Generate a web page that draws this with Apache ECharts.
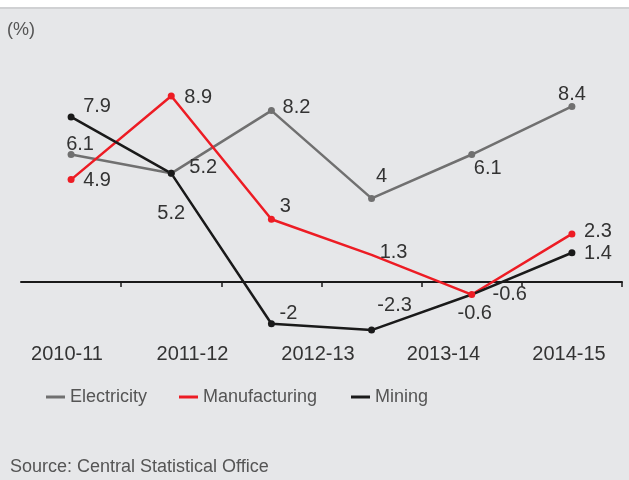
<!DOCTYPE html>
<html><head><meta charset="utf-8">
<script src="https://cdn.jsdelivr.net/npm/echarts@6/dist/echarts.min.js"></script>
<style>html,body{margin:0;padding:0;background:#e6e7e9}#c{width:629px;height:480px}</style>
</head><body><div id="c"></div>
<script>
// ---- data ----
const tickLabels = ['2010-11', '2011-12', '2012-13', '2013-14', '2014-15'];
const pointSlots = ['1', '2', '3', '4', '5', '6'];
const electricity = [6.1, 5.2, 8.2, 4, 6.1, 8.4];
const manufacturing = [4.9, 8.9, 3, 1.3, -0.6, 2.3];
const mining = [7.9, 5.2, -2, -2.3, -0.6, 1.4];
const seriesNames = ['Electricity', 'Manufacturing', 'Mining'];

// ---- styling (label offsets / hidden markers) ----
const elecOffsets = [[9, -10], [32, -6], [25, -3], [10, -22], [16, 14], [0, -12]];
const manuOffsets = [[26, 1], [27, 1], [14, -13], [22, -2], [3, 19], [26, -2]];
const minOffsets = [[26, -10], [0, 40], [17, -10], [23, -25], [38, 0], [26, 1]];
const elecHidden = [0, 0, 0, 0, 0, 0];
const manuHidden = [0, 0, 0, 1, 0, 0];
const minHidden = [0, 0, 0, 0, 1, 0];
const colors = ['#707070', '#ed1c24', '#1a1a1a'];
const FONT = 'Liberation Sans, Arial, sans-serif';

function build(values, offsets, hidden) {
  return values.map((v, i) => ({
    value: v,
    symbolSize: hidden[i] ? 0.1 : 7,
    label: { offset: offsets[i] }
  }));
}

function lineSeries(name, values, offsets, hidden, color) {
  return {
    name: name, type: 'line', xAxisIndex: 0, yAxisIndex: 0,
    data: build(values, offsets, hidden),
    symbol: 'circle', symbolSize: 7, showSymbol: true,
    lineStyle: { color: color, width: 2.5 },
    itemStyle: { color: color },
    label: { show: true, position: 'inside', fontSize: 20, color: '#333', fontFamily: FONT },
    emphasis: { disabled: true }
  };
}

function legendAt(name, left) {
  return { data: [name], left: left, top: 388, padding: 0, icon: 'rect', itemWidth: 19, itemHeight: 3,
    textStyle: { fontSize: 18, color: '#555', fontFamily: FONT } };
}

const chart = echarts.init(document.getElementById('c'));
chart.setOption({
  animation: false,
  backgroundColor: '#e6e7e9',
  textStyle: { fontFamily: FONT },
  grid: [
    { left: 21, right: 7, top: 73, height: 292.6 },
    { left: 67, width: 502, top: 300, height: 40 }
  ],
  xAxis: [
    { gridIndex: 0, type: 'category', data: pointSlots, boundaryGap: true,
      axisLine: { onZero: true, lineStyle: { color: '#1a1a1a', width: 2 } },
      axisTick: { show: true, length: 5, interval: function (i) { return i !== 0; },
        lineStyle: { color: '#1a1a1a', width: 1.5 } },
      axisLabel: { show: false } },
    { gridIndex: 1, type: 'category', data: tickLabels, boundaryGap: false,
      axisLine: { show: false }, axisTick: { show: false },
      axisLabel: { interval: 0, fontSize: 20, color: '#333', margin: 4, fontFamily: FONT } }
  ],
  yAxis: [
    { gridIndex: 0, type: 'value', min: -4, max: 10, show: false, splitLine: { show: false } },
    { gridIndex: 1, type: 'value', show: false }
  ],
  legend: [
    legendAt(seriesNames[0], 46),
    legendAt(seriesNames[1], 179),
    legendAt(seriesNames[2], 351)
  ],
  graphic: [
    { type: 'rect', shape: { x: 0, y: 0, width: 629, height: 7 }, style: { fill: '#ffffff' }, silent: true },
    { type: 'rect', shape: { x: 0, y: 7, width: 629, height: 2 }, style: { fill: '#d0d1d3' }, silent: true },
    { type: 'text', left: 7, top: 21, style: { text: '(%)', fontSize: 18, fill: '#555', fontFamily: FONT } },
    { type: 'text', left: 10, top: 458, style: { text: 'Source: Central Statistical Office', fontSize: 18, fill: '#555', fontFamily: FONT } }
  ],
  series: [
    lineSeries(seriesNames[0], electricity, elecOffsets, elecHidden, colors[0]),
    lineSeries(seriesNames[1], manufacturing, manuOffsets, manuHidden, colors[1]),
    lineSeries(seriesNames[2], mining, minOffsets, minHidden, colors[2])
  ]
});
</script>
</body></html>
